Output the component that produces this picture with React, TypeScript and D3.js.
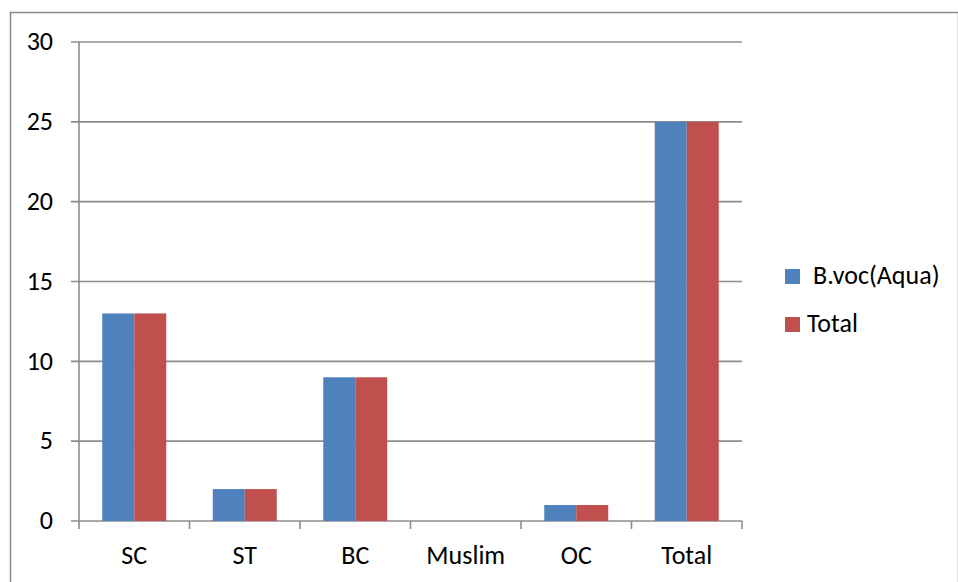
import React, { useEffect, useRef } from "react";
import * as d3 from "d3";

const categories = ["SC", "ST", "BC", "Muslim", "OC", "Total"];
const seriesNames = ["B.voc(Aqua)", "Total"];
const bvocValues = [13, 2, 9, 0, 1, 25];
const totalValues = [13, 2, 9, 0, 1, 25];
const yTicks = [0, 5, 10, 15, 20, 25, 30];
const colors = ["#4F81BD", "#C0504D"];

const App: React.FC = () => {
  const svgRef = useRef<SVGSVGElement | null>(null);

  useEffect(() => {
    if (!svgRef.current) return;
    const width = 958;
    const height = 582;
    const margin = { top: 42, left: 79, right: 216, bottom: 61 };
    const font = "Calibri, Carlito, 'Open Sans', sans-serif";
    const fontSize = "26px";

    d3.select(svgRef.current).selectAll("*").remove();
    const svg = d3
      .select(svgRef.current)
      .attr("width", width)
      .attr("height", height)
      .style("display", "block");

    // chart border
    svg
      .append("rect")
      .attr("x", 10.5)
      .attr("y", 12.5)
      .attr("width", width - 10)
      .attr("height", height)
      .attr("fill", "white")
      .attr("stroke", "#898989")
      .attr("stroke-width", 1.5);

    const x = d3
      .scaleBand()
      .domain(categories)
      .range([margin.left, width - margin.right])
      .paddingInner(0)
      .paddingOuter(0);

    const inner = d3
      .scaleBand()
      .domain(seriesNames)
      .range([0, x.bandwidth()])
      .paddingOuter(0.727)
      .paddingInner(0);

    const y = d3
      .scaleLinear()
      .domain([0, 30])
      .range([height - margin.bottom, margin.top]);

    // gridlines
    svg
      .append("g")
      .selectAll("line")
      .data(yTicks)
      .enter()
      .append("line")
      .attr("x1", margin.left - 8)
      .attr("x2", width - margin.right)
      .attr("y1", (d) => y(d))
      .attr("y2", (d) => y(d))
      .attr("stroke", "#8c8c8c")
      .attr("stroke-width", 1.6);

    // y labels
    svg
      .append("g")
      .selectAll("text")
      .data(yTicks)
      .enter()
      .append("text")
      .attr("x", 53)
      .attr("y", (d) => y(d))
      .attr("dy", "0.32em")
      .attr("text-anchor", "end")
      .style("font-family", font)
      .style("font-size", fontSize)
      .attr("fill", "#000")
      .text((d) => String(d));

    // bars
    const series = [bvocValues, totalValues];
    series.forEach((vals, si) => {
      svg
        .append("g")
        .selectAll("rect")
        .data(vals)
        .enter()
        .append("rect")
        .attr("x", (d, i) => x(categories[i])! + inner(seriesNames[si])!)
        .attr("y", (d) => y(d))
        .attr("width", inner.bandwidth())
        .attr("height", (d) => y(0) - y(d))
        .attr("fill", colors[si]);
    });

    // y axis line
    svg
      .append("line")
      .attr("x1", margin.left)
      .attr("x2", margin.left)
      .attr("y1", margin.top)
      .attr("y2", y(0) + 8)
      .attr("stroke", "#8c8c8c")
      .attr("stroke-width", 1.6);

    // x axis ticks
    const boundaries = categories.map((c) => x(c)! + x.bandwidth());
    svg
      .append("g")
      .selectAll("line")
      .data(boundaries)
      .enter()
      .append("line")
      .attr("x1", (d) => d)
      .attr("x2", (d) => d)
      .attr("y1", y(0))
      .attr("y2", y(0) + 8)
      .attr("stroke", "#8c8c8c")
      .attr("stroke-width", 1.6);

    // x labels
    svg
      .append("g")
      .selectAll("text")
      .data(categories)
      .enter()
      .append("text")
      .attr("x", (d) => x(d)! + x.bandwidth() / 2)
      .attr("y", 564)
      .attr("text-anchor", "middle")
      .style("font-family", font)
      .style("font-size", fontSize)
      .attr("fill", "#000")
      .text((d) => d);

    // legend
    const legend = [
      { name: seriesNames[0], sy: 269, ty: 284, tx: 813 },
      { name: seriesNames[1], sy: 317, ty: 332, tx: 807 },
    ];
    legend.forEach((l, i) => {
      svg
        .append("rect")
        .attr("x", 785)
        .attr("y", l.sy)
        .attr("width", 15)
        .attr("height", 15)
        .attr("fill", colors[i]);
      svg
        .append("text")
        .attr("x", l.tx)
        .attr("y", l.ty)
        .style("font-family", font)
        .style("font-size", fontSize)
        .attr("fill", "#000")
        .text(l.name);
    });
  }, []);

  return (
    <div style={{ position: "absolute", left: 0, top: 0 }}>
      <svg ref={svgRef}></svg>
    </div>
  );
};

export default App;
